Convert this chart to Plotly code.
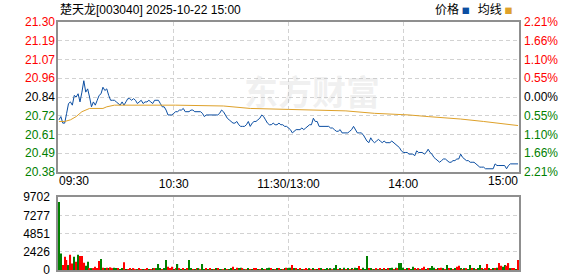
import plotly.graph_objects as go

title_text = "楚天龙[003040] 2025-10-22 15:00"
prev_close = 20.84

minutes = list(range(241))
price = [
    20.70, 20.72, 20.68, 20.68, 20.74, 20.80, 20.81, 20.79, 20.85, 20.84,
    20.86, 20.81, 20.87, 20.94, 20.87, 20.89, 20.84, 20.78, 20.81, 20.79,
    20.82, 20.85, 20.86, 20.90, 20.88, 20.89, 20.85, 20.82, 20.82, 20.82,
    20.81, 20.80, 20.79, 20.81, 20.79, 20.81, 20.83, 20.83, 20.82, 20.83,
    20.82, 20.80, 20.81, 20.82, 20.80, 20.81, 20.81, 20.82, 20.81, 20.80,
    20.82, 20.82, 20.82, 20.80, 20.78, 20.78, 20.76, 20.73, 20.73, 20.73,
    20.74, 20.75, 20.75, 20.76, 20.76, 20.77, 20.75, 20.75, 20.75, 20.76,
    20.76, 20.75, 20.75, 20.75, 20.75, 20.74, 20.72, 20.73, 20.73, 20.73,
    20.73, 20.73, 20.73, 20.73, 20.74, 20.76, 20.75, 20.73, 20.71, 20.70,
    20.69, 20.68, 20.68, 20.69, 20.67, 20.66, 20.66, 20.66, 20.67, 20.69,
    20.66, 20.68, 20.69, 20.69, 20.70, 20.71, 20.73, 20.72, 20.70, 20.68,
    20.67, 20.67, 20.68, 20.67, 20.67, 20.68, 20.67, 20.67, 20.66, 20.66,
    20.65, 20.64, 20.62, 20.63, 20.64, 20.64, 20.64, 20.65, 20.64, 20.65,
    20.66, 20.67, 20.67, 20.71, 20.69, 20.69, 20.66, 20.66, 20.66, 20.66,
    20.66, 20.66, 20.65, 20.65, 20.64, 20.63, 20.63, 20.64, 20.62, 20.62,
    20.62, 20.62, 20.63, 20.64, 20.66, 20.64, 20.62, 20.62, 20.62, 20.61,
    20.59, 20.57, 20.56, 20.59, 20.57, 20.56, 20.57, 20.58, 20.57, 20.56,
    20.57, 20.56, 20.56, 20.56, 20.57, 20.56, 20.55, 20.54, 20.53, 20.51,
    20.50, 20.50, 20.50, 20.49, 20.49, 20.49, 20.48, 20.51, 20.50, 20.50,
    20.50, 20.49, 20.50, 20.52, 20.50, 20.49, 20.47, 20.46, 20.45, 20.44,
    20.45, 20.46, 20.46, 20.45, 20.44, 20.44, 20.45, 20.45, 20.46, 20.46,
    20.49, 20.47, 20.46, 20.45, 20.45, 20.44, 20.44, 20.44, 20.43, 20.42,
    20.41, 20.41, 20.41, 20.40, 20.40, 20.40, 20.40, 20.40, 20.43, 20.42,
    20.42, 20.42, 20.42, 20.42, 20.40, 20.42, 20.43, 20.43, 20.43, 20.43, 20.43,
]

avg_minutes = [0, 3, 6, 9, 12, 16, 23, 25, 29, 61, 86, 100, 120, 131, 150,
               165, 177, 183, 193, 200, 210, 222, 230, 240]
avg_price = [20.69, 20.69, 20.70, 20.72, 20.75, 20.77, 20.77, 20.78, 20.79, 20.79,
             20.785, 20.77, 20.764, 20.76, 20.755, 20.74, 20.735, 20.73, 20.72,
             20.715, 20.705, 20.69, 20.68, 20.665]

volume = [
    9040, 2200, 660, 1770, 1330, 660, 2030, 880, 1770, 1100,
    2030, 1850, 1850, 970, 570, 1100, 220, 220, 220, 440,
    150, 1190, 1455, 300, 150, 300, 150, 350, 150, 300,
    150, 200, 100, 150, 1015, 120, 100, 150, 100, 130,
    100, 120, 150, 100, 120, 100, 140, 100, 120, 150,
    130, 150, 800, 150, 120, 150, 1325, 440, 150, 440,
    120, 150, 800, 150, 120, 130, 100, 150, 1325, 150,
    120, 100, 150, 130, 100, 800, 120, 150, 100, 130,
    100, 120, 150, 130, 100, 120, 100, 150, 120, 100,
    130, 440, 120, 300, 150, 300, 130, 100, 120, 150,
    120, 100, 130, 150, 120, 100, 130, 120, 100, 150,
    300, 130, 120, 100, 150, 130, 120, 100, 130, 300,
    200, 300, 660, 150, 130, 120, 150, 100, 120, 130,
    120, 150, 100, 130, 120, 100, 150, 130, 120, 100,
    130, 120, 150, 100, 130, 660, 120, 150, 100, 300,
    120, 130, 100, 150, 120, 300, 130, 530, 120, 300,
    120, 1850, 130, 150, 120, 100, 130, 120, 150, 100,
    130, 120, 150, 130, 300, 120, 300, 130, 925, 925,
    300, 120, 130, 150, 120, 440, 130, 120, 150, 100,
    130, 440, 120, 150, 130, 530, 300, 120, 130, 150,
    300, 130, 120, 660, 150, 130, 120, 200, 440, 570,
    130, 120, 150, 130, 120, 660, 130, 150, 120, 130,
    660, 130, 120, 150, 800, 130, 120, 150, 130, 300,
    925, 570, 440, 660, 570, 925, 150, 130, 150, 120, 1325,
]

direction = (
    "GGRRRGRRGR" "GRRRGGRGRR" "RRGRGRGRRG" "GRGGRGRRGR" "RGRRGRRGRG"
    "RGGGRGGRRR" "GRGRGRGRGG" "RGRGRGGRGR" "GRGRGGRGRG" "GRGRGGRGRG"
    "RGRRGRGGRG" "GRGRGRGRGR" "GGRGRGRGRR" "RGRGRGRGRG" "GRGRGGRGRG"
    "RGRGRGGRRG" "GGRGRGRGRG" "RGRGGRGRGG" "GRGRGGRGRG" "RRGRGGGRGR"
    "RGRGRGRGRR" "GRGRGGRGRG" "GRGRRGRGRG" "RRGGRRGRRGR"
)

price_ticks = [20.38, 20.495, 20.61, 20.725, 20.84, 20.955, 21.07, 21.185, 21.30]
price_labels = ["20.38", "20.49", "20.61", "20.72", "20.84", "20.96", "21.07", "21.19", "21.30"]
pct_labels = ["2.21%", "1.66%", "1.10%", "0.55%", "0.00%", "0.55%", "1.10%", "1.66%", "2.21%"]
vol_ticks = [0, 2426, 4851, 7277, 9702]
vol_labels = ["0", "2426", "4851", "7277", "9702"]
time_ticks = [0, 60, 120, 180, 240]
time_labels = ["09:30", "10:30", "11:30/13:00", "14:00", "15:00"]

RED = "#ff0000"
GREEN = "#008000"
BLACK = "#000000"
BLUE = "#0b4ea2"
ORANGE = "#dea12a"
BORDER = "#8f8f8f"
GRID = "#d2d2d2"
FONT = "Liberation Sans"

fig = go.Figure()
fig.add_trace(go.Scatter(x=minutes, y=price, mode="lines", xaxis="x", yaxis="y",
                         line=dict(color=BLUE, width=1), hoverinfo="skip"))
fig.add_trace(go.Scatter(x=avg_minutes, y=avg_price, mode="lines", xaxis="x", yaxis="y",
                         line=dict(color=ORANGE, width=1), hoverinfo="skip"))
bar_colors = [RED if d == "R" else GREEN for d in direction]
fig.add_trace(go.Bar(x=minutes, y=volume, xaxis="x2", yaxis="y2",
                     marker=dict(color=bar_colors, line=dict(width=0)), hoverinfo="skip"))

xr = [-0.5, 240.5]
yr = [price_ticks[0], price_ticks[-1]]
price_dom = [0.395, 1.0]
vol_dom = [0.0, 0.294]


def grp(cond):
    return [i for i, v in enumerate(price_ticks) if cond(round(v, 3))]


up_idx = grp(lambda v: v > prev_close)
zero_idx = grp(lambda v: v == prev_close)
down_idx = grp(lambda v: v < prev_close)

common = dict(automargin=False, zeroline=False, ticks="")

layout = dict(
    width=578, height=276,
    margin=dict(l=58, r=59, t=22, b=6, autoexpand=False),
    paper_bgcolor="white", plot_bgcolor="white",
    showlegend=False, bargap=0.35,
    font=dict(family=FONT, size=12, color=BLACK),
    xaxis=dict(domain=[0, 1], anchor="y", range=xr, tickvals=time_ticks[1:4],
               ticktext=time_labels[1:4], showgrid=True, gridcolor=GRID, griddash="4px,3px",
               gridwidth=1, showline=True, mirror=True, linecolor=BORDER, linewidth=1.5,
               tickfont=dict(size=12), **common),
    xaxis3=dict(overlaying="x", anchor="y", range=xr, tickvals=[time_ticks[0]],
                ticktext=[time_labels[0]], ticklabelposition="outside right",
                showgrid=False, showline=False, **common),
    xaxis4=dict(overlaying="x", anchor="y", range=xr, tickvals=[time_ticks[-1]],
                ticktext=[time_labels[-1]], ticklabelposition="outside left",
                showgrid=False, showline=False, **common),
    xaxis2=dict(domain=[0, 1], anchor="y2", range=xr, tickvals=time_ticks[1:4],
                showticklabels=False, showgrid=True, gridcolor=GRID, griddash="4px,3px",
                showline=True, mirror=True, linecolor=BORDER, linewidth=1.5, **common),
    yaxis=dict(domain=price_dom, anchor="x", range=yr, tickvals=price_ticks,
               showticklabels=False, showgrid=True, gridcolor=GRID, griddash="4px,3px",
               showline=True, mirror=True, linecolor=BORDER, linewidth=1.5, **common),
    yaxis2=dict(domain=vol_dom, anchor="x2", range=[vol_ticks[0], vol_ticks[-1]],
                tickvals=vol_ticks, ticktext=vol_labels, showgrid=True, gridcolor=GRID,
                griddash="4px,3px", showline=True, mirror=True, linecolor=BORDER,
                linewidth=1.5, ticklabeloverflow="allow", ticklabelstandoff=4,
                tickfont=dict(size=12, color=BLACK), **common),
)

# empty traces so the overlaying label axes are registered and drawn
fig.add_trace(go.Scatter(x=[], y=[], xaxis="x3", yaxis="y", hoverinfo="skip"))
fig.add_trace(go.Scatter(x=[], y=[], xaxis="x4", yaxis="y", hoverinfo="skip"))

axis_n = 5
for idxs, col in ((up_idx, RED), (zero_idx, BLACK), (down_idx, GREEN)):
    for side, labels in (("left", price_labels), ("right", pct_labels)):
        layout["yaxis%d" % axis_n] = dict(
            overlaying="y", anchor="x", side=side, range=yr,
            tickvals=[price_ticks[i] for i in idxs],
            ticktext=[labels[i] for i in idxs],
            tickfont=dict(color=col, size=12), showgrid=False, showline=False,
            ticklabeloverflow="allow", ticklabelstandoff=2 if side == "left" else 4,
            **common)
        fig.add_trace(go.Scatter(x=[], y=[], xaxis="x", yaxis="y%d" % axis_n,
                                 hoverinfo="skip"))
        axis_n += 1

fig.update_layout(**layout)

fig.add_annotation(xref="paper", yref="paper", x=0, y=1, xanchor="left", yanchor="bottom",
                   yshift=3, text=title_text, showarrow=False,
                   font=dict(family="Liberation Sans, Noto Sans CJK SC", size=12, color=BLACK))
fig.add_annotation(xref="paper", yref="paper", x=1, y=1, xanchor="right", yanchor="bottom",
                   yshift=3, xshift=-5, showarrow=False,
                   text=("价格 <span style='color:%s;font-size:8px'>■</span>   均线 "
                         "<span style='color:%s;font-size:8px'>■</span>" % (BLUE, ORANGE)),
                   font=dict(family="Noto Sans CJK SC", size=12, color=BLACK))
fig.add_annotation(xref="paper", yref="paper", x=0.55, y=0.725, xanchor="center",
                   yanchor="middle", showarrow=False, text="<b>东方财富</b>",
                   font=dict(family="Noto Sans CJK SC", size=34, color="rgba(190,190,190,0.22)"))

fig.write_html("out.html")
